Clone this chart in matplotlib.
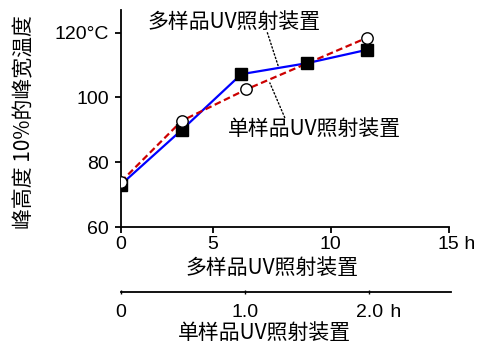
import numpy as np
import matplotlib
matplotlib.use('Agg')
import matplotlib.pyplot as plt

cjk = ['Noto Sans CJK SC', 'DejaVu Sans']
num = ['Liberation Sans', 'DejaVu Sans']

# x positions in hours of the single-sample device (both series share the axis)
multi_x = [0, 0.49, 0.97, 1.50, 1.98]
multi_y = [73.1, 90.0, 107.2, 110.6, 114.7]
single_x = [0, 0.49, 1.01, 1.98]
single_y = [74.0, 92.8, 102.5, 118.4]

# upper time axis (multi-sample device), tick places as drawn in the original
multi_ticks = [0, 0.74, 1.69, 2.64]
multi_labels = ['0', '5', '10', '15']
single_ticks = [0, 1.0, 2.0]
single_labels = ['0', '1.0', '2.0']
y_ticks = [60, 80, 100, 120]
y_labels = ['60', '80', '100', '120°C']

fig = plt.figure(figsize=(4.94, 3.46), dpi=100)
ax = fig.add_axes([0.2449, 0.3439, 0.663, 0.627])

ax.plot(multi_x, multi_y, color='#0000ff', lw=1.6, zorder=2)
ax.plot(single_x, single_y, color='#cc0000', lw=1.6, dashes=(3, 1.6), zorder=3)
ax.plot(multi_x, multi_y, ls='none', marker='s', ms=8.4, mfc='black', mec='black', zorder=4)
ax.plot(single_x, single_y, ls='none', marker='o', ms=8.2, mfc='white', mec='black', mew=1.0, zorder=5)

ax.set_xlim(0, 2.64)
ax.set_ylim(60, 127)
for s in ['top', 'right']:
    ax.spines[s].set_visible(False)
for s in ['left', 'bottom']:
    ax.spines[s].set_linewidth(1.3)

ax.set_yticks(y_ticks)
ax.set_yticklabels(y_labels, fontfamily=num, fontsize=14)
ax.set_xticks(multi_ticks)
ax.set_xticklabels(multi_labels, fontfamily=num, fontsize=14)
ax.tick_params(axis='y', direction='out', length=4.5, width=1.3, pad=4)
ax.tick_params(axis='x', direction='out', length=4.5, width=1.3, pad=2)

ax.annotate(' h', xy=(multi_ticks[-1], 0), xycoords=('data', 'axes fraction'),
            xytext=(7.8, -6.5), textcoords='offset points', ha='left', va='top',
            fontfamily=num, fontsize=14, annotation_clip=False)

ax.text(0.4626, -0.189, '多样品UV照射装置', transform=ax.transAxes, ha='center', va='center',
        fontfamily=cjk, fontsize=15)

# second time axis for the single-sample device
sec = ax.secondary_xaxis(-0.30)
sec.set_xticks(single_ticks)
sec.set_xticklabels(single_labels, fontfamily=num, fontsize=14)
sec.spines['bottom'].set_linewidth(1.3)
sec.spines['bottom'].set_bounds(0, 2.66)
sec.tick_params(axis='x', direction='inout', length=3, width=1.0, pad=7)
ax.annotate(' h', xy=(single_ticks[-1], -0.30), xycoords=('data', 'axes fraction'),
            xytext=(11.7, -8.7), textcoords='offset points', ha='left', va='top',
            fontfamily=num, fontsize=14, annotation_clip=False)
ax.text(0.438, -0.49, '单样品UV照射装置', transform=ax.transAxes, ha='center', va='center',
        fontfamily=cjk, fontsize=15)

fig.text(0.05, 0.647, '峰高度 10%的峰宽温度', rotation=90, ha='center', va='center',
         fontfamily=cjk, fontsize=15)

# series labels with dotted leaders
ax.text(0.91, 123.3, '多样品UV照射装置', ha='center', va='center', fontfamily=cjk, fontsize=15)
ax.annotate('', xy=(1.27, 109.4), xytext=(1.18, 120.0),
            arrowprops=dict(arrowstyle='-', ls=':', lw=1.0, color='black', shrinkA=0, shrinkB=0))
ax.text(1.56, 90.4, '单样品UV照射装置', ha='center', va='center', fontfamily=cjk, fontsize=15)
ax.annotate('', xy=(1.20, 104.5), xytext=(1.32, 93.8),
            arrowprops=dict(arrowstyle='-', ls=':', lw=1.0, color='black', shrinkA=0, shrinkB=0))

fig.savefig('out.png', dpi=100)
